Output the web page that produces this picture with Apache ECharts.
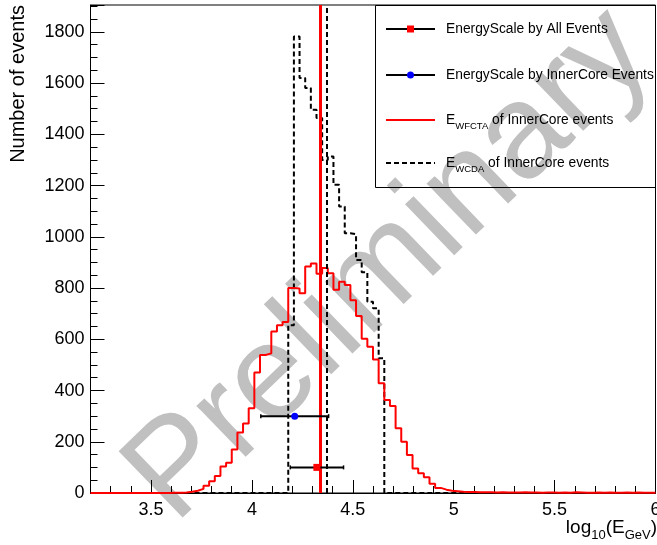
<!DOCTYPE html>
<html>
<head>
<meta charset="utf-8">
<title>Energy scale</title>
<script src="https://cdn.jsdelivr.net/npm/echarts@6/dist/echarts.min.js"></script>
<style>body{margin:0;background:#fff} #main{width:657px;height:545px}</style>
</head>
<body>
<div id="main"></div>
<script type="text/javascript">
// 100 bins from 3.2 to 6.0
var binLow = 3.2
var binWidth = 0.028

// E_WFCTA of InnerCore events (red histogram)
var wfcta = [
    0, 0, 0, 0, 0, 0, 0, 0, 0, 0,
    0, 0, 0, 0, 1, 1, 2, 5, 9, 16,
    28, 46, 66, 103, 118, 170, 236, 271, 331, 470,
    539, 545, 630, 655, 668, 800, 798, 780, 884, 896,
    856, 878, 858, 793, 825, 812, 752, 691, 602, 571,
    521, 428, 363, 340, 253, 200, 148, 96, 77, 61,
    36, 20, 13, 9, 7, 5, 4, 4, 3, 3,
    3, 2, 3, 2, 2, 2, 3, 2, 2, 1,
    2, 2, 1, 2, 1, 3, 2, 1, 1, 2,
    1, 2, 1, 1, 2, 1, 2, 1, 1, 1
]

// E_WCDA of InnerCore events (dashed histogram)
var wcda = [
    0, 0, 0, 0, 0, 0, 0, 0, 0, 0,
    0, 0, 0, 0, 0, 0, 0, 0, 0, 0,
    0, 0, 0, 0, 0, 0, 0, 0, 0, 0,
    0, 0, 0, 0, 0, 655, 1782, 1620, 1581, 1496,
    1464, 1300, 1314, 1203, 1118, 1014, 1010, 910, 862, 747,
    721, 526, 0, 0, 0, 0, 0, 0, 0, 0,
    0, 0, 0, 0, 0, 0, 0, 0, 0, 0,
    0, 0, 0, 0, 0, 0, 0, 0, 0, 0,
    0, 0, 0, 0, 0, 0, 0, 0, 0, 0,
    0, 0, 0, 0, 0, 0, 0, 0, 0, 0
]

var wfctaMean = 4.345
var wcdaMean = 4.372

// [x, y, x error]
var allEvents = [[4.322, 100, 0.132]]
var innerCore = [[4.212, 300, 0.168]]

var xMajor = [3.5, 4, 4.5, 5, 5.5, 6]
var xMinor = [3.2, 3.3, 3.4, 3.5, 3.6, 3.7, 3.8, 3.9, 4.0, 4.1, 4.2, 4.3, 4.4, 4.5, 4.6, 4.7, 4.8, 4.9,
              5.0, 5.1, 5.2, 5.3, 5.4, 5.5, 5.6, 5.7, 5.8, 5.9, 6.0]

var font = 'Liberation Sans'

var toSteps = function(counts) {
    var pts = []
    for (var i = 0; i < counts.length; i++) {
        pts.push([binLow + i * binWidth, counts[i]])
    }
    pts.push([binLow + counts.length * binWidth, counts[counts.length - 1]])
    return pts
}

var errorBar = function(color, shape) {
    return function(params, api) {
        var x = api.value(0), y = api.value(1), e = api.value(2)
        var c = api.coord([x, y])
        var l = api.coord([x - e, y])
        var r = api.coord([x + e, y])
        var marker
        if (shape == 'square') {
            marker = {type: 'rect', shape: {x: c[0] - 3.5, y: c[1] - 3.5, width: 7, height: 7}, style: {fill: color}}
        } else {
            marker = {type: 'circle', shape: {cx: c[0], cy: c[1], r: 3.5}, style: {fill: color}}
        }
        return {
            type: 'group',
            children: [
                {type: 'line', shape: {x1: l[0], y1: c[1], x2: r[0], y2: c[1]}, style: {stroke: '#000', lineWidth: 2}},
                {type: 'line', shape: {x1: l[0], y1: c[1] - 2, x2: l[0], y2: c[1] + 2}, style: {stroke: '#000', lineWidth: 1.5}},
                {type: 'line', shape: {x1: r[0], y1: c[1] - 2, x2: r[0], y2: c[1] + 2}, style: {stroke: '#000', lineWidth: 1.5}},
                marker
            ]
        }
    }
}

var legendRows = [
    {y: 29, text: 'EnergyScale by All Events'},
    {y: 75, text: 'EnergyScale by InnerCore Events'},
    {y: 120, text: '{a|E}{s|WFCTA}{a| of InnerCore events}'},
    {y: 163, text: '{a|E}{s|WCDA}{a| of InnerCore events}'}
]
var rich = {
    a: {fontFamily: font, fontSize: 13.8, lineHeight: 22, verticalAlign: 'middle', color: '#000'},
    s: {fontFamily: font, fontSize: 9.5, lineHeight: 22, verticalAlign: 'bottom', color: '#000'}
}

var legendGraphics = [
    {type: 'rect', z: 100, shape: {x: 375.5, y: 5.5, width: 280, height: 182}, style: {fill: 'none', stroke: '#000', lineWidth: 1}},
    {type: 'line', z: 100, shape: {x1: 386, y1: 29, x2: 435, y2: 29}, style: {stroke: '#000', lineWidth: 2}},
    {type: 'rect', z: 100, shape: {x: 407, y: 25.5, width: 7, height: 7}, style: {fill: '#ff0000'}},
    {type: 'line', z: 100, shape: {x1: 386, y1: 75, x2: 435, y2: 75}, style: {stroke: '#000', lineWidth: 2}},
    {type: 'circle', z: 100, shape: {cx: 410.5, cy: 75, r: 3.5}, style: {fill: '#0000ff'}},
    {type: 'line', z: 100, shape: {x1: 386, y1: 120, x2: 435, y2: 120}, style: {stroke: '#ff0000', lineWidth: 2}},
    {type: 'line', z: 100, shape: {x1: 386, y1: 163, x2: 435, y2: 163}, style: {stroke: '#000', lineWidth: 2, lineDash: [5, 3]}}
]
legendRows.forEach(function(row) {
    legendGraphics.push({
        type: 'text', z: 100, x: 446, y: row.y,
        style: {text: row.text, rich: rich, fontFamily: font, fontSize: 13.8, fill: '#000', verticalAlign: 'middle'}
    })
})

var myChart = echarts.init(document.querySelector('#main'))
var option = {
    animation: false,
    grid: {
        left: 90.5, right: 1.5, top: 5, bottom: 52, show: true, borderColor: '#000', borderWidth: 1,
        containLabel: false, outerBoundsMode: 'none'
    },
    xAxis: [
        {
            type: 'value', min: 3.2, max: 6,
            axisLine: {lineStyle: {color: '#000'}},
            axisTick: {inside: true, length: 13, customValues: xMajor, lineStyle: {color: '#000'}},
            axisLabel: {
                customValues: xMajor, color: '#000', fontFamily: font, fontSize: 18, margin: 8,
                alignMaxLabel: 'center', alignMinLabel: 'center',
                formatter: function(v) { return String(v) }
            },
            splitLine: {show: false}
        },
        {
            type: 'value', min: 3.2, max: 6, position: 'bottom',
            axisLine: {show: false},
            axisTick: {inside: true, length: 7, customValues: xMinor, lineStyle: {color: '#000'}},
            axisLabel: {show: false},
            splitLine: {show: false}
        }
    ],
    yAxis: {
        type: 'value', min: 0, max: 1905, interval: 200,
        axisLine: {show: true, lineStyle: {color: '#000'}},
        axisTick: {inside: true, length: 14, lineStyle: {color: '#000'}},
        minorTick: {show: true, splitNumber: 4, length: 7, lineStyle: {color: '#000'}},
        axisLabel: {
            color: '#000', fontFamily: font, fontSize: 18, margin: 6, showMaxLabel: false,
            formatter: function(v) { return String(v) }
        },
        splitLine: {show: false}
    },
    graphic: [
        {
            type: 'text', z: 0, x: 390, y: 266, rotation: 44 * Math.PI / 180,
            style: {text: 'Preliminary', fontFamily: font, fontSize: 134, fill: '#c0c0c0', align: 'center', verticalAlign: 'middle'}
        },
        {
            type: 'text', z: 100, rotation: Math.PI / 2, x: 18, y: 5,
            style: {text: 'Number of events', fontFamily: font, fontSize: 20, fill: '#000', align: 'right', verticalAlign: 'middle'}
        },
        {
            type: 'text', z: 100, x: 657, y: 528,
            style: {
                text: '{a|log}{s|10}{a|(E}{s|GeV}{a|)}', align: 'right', verticalAlign: 'middle',
                rich: {
                    a: {fontFamily: font, fontSize: 19, lineHeight: 28, verticalAlign: 'middle', color: '#000'},
                    s: {fontFamily: font, fontSize: 13, lineHeight: 28, verticalAlign: 'bottom', color: '#000'}
                }
            }
        }
    ].concat(legendGraphics),
    series: [
        {
            name: 'E_WCDA of InnerCore events', type: 'line', step: 'end', symbol: 'none',
            data: toSteps(wcda),
            lineStyle: {color: '#000', width: 2, type: [5, 3]},
            markLine: {
                silent: true, symbol: ['none', 'none'], label: {show: false},
                lineStyle: {color: '#000', width: 2, type: [5, 3]},
                data: [{xAxis: wcdaMean}]
            }
        },
        {
            name: 'E_WFCTA of InnerCore events', type: 'line', step: 'end', symbol: 'none',
            data: toSteps(wfcta),
            lineStyle: {color: '#ff0000', width: 2},
            markLine: {
                silent: true, symbol: ['none', 'none'], label: {show: false},
                lineStyle: {color: '#ff0000', width: 3, type: 'solid'},
                data: [{xAxis: wfctaMean}]
            }
        },
        {
            name: 'EnergyScale by All Events', type: 'custom', z: 5,
            renderItem: errorBar('#ff0000', 'square'),
            encode: {x: 0, y: 1},
            data: allEvents
        },
        {
            name: 'EnergyScale by InnerCore Events', type: 'custom', z: 5,
            renderItem: errorBar('#0000ff', 'circle'),
            encode: {x: 0, y: 1},
            data: innerCore
        }
    ]
}
myChart.setOption(option)
</script>
</body>
</html>
